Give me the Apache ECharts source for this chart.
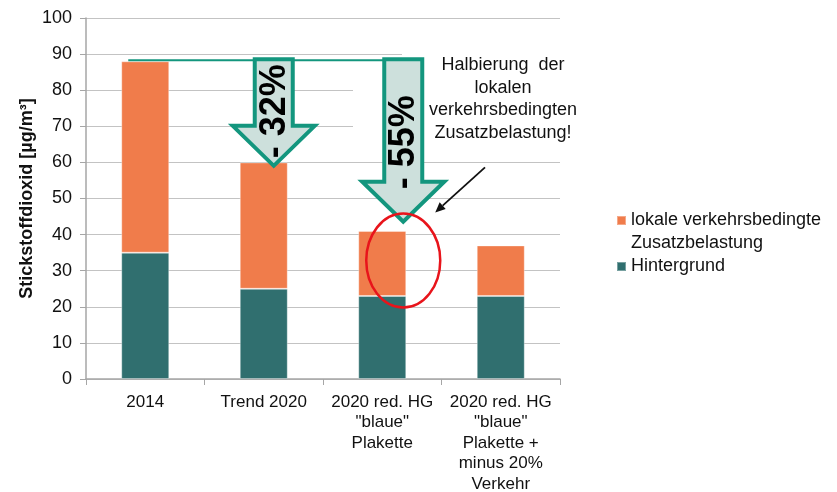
<!DOCTYPE html>
<html lang="de">
<head>
<meta charset="UTF-8">
<title>Stickstoffdioxid</title>
<style>
  html, body { margin: 0; padding: 0; background: #fff; }
  #chart { width: 837px; height: 492px; }
</style>
</head>
<body>
<div id="chart"></div>
<script src="https://cdn.jsdelivr.net/npm/echarts@6/dist/echarts.min.js"></script>
<script>
// Werte
var categories = ['2014', 'Trend 2020', '2020 red. HG\n"blaue"\nPlakette', '2020 red. HG\n"blaue"\nPlakette +\nminus 20%\nVerkehr'];
var hintergrund = [35, 25, 23, 23];
var zusatz = [53, 35, 18, 14];
var seriesNames = ['lokale verkehrsbedingte Zusatzbelastung', 'Hintergrund'];
// Pfeile: Kategorie, Spitze (Wert), Text
var arrowCats = [1, 2];
var arrowTips = [58.5, 43];
var arrowLabels = ['- 32%', '- 55%'];
var note = 'Halbierung  der\nlokalen\nverkehrsbedingten\nZusatzbelastung!';

var FONT = '"Liberation Sans", Arial, sans-serif';
var ORANGE = '#f07c4b';
var TEAL = '#306f6f';
var GREEN = '#13967e';

var chart = echarts.init(document.getElementById('chart'));

var option = {
  animation: false,
  textStyle: { fontFamily: FONT },
  grid: { left: 86, right: 277, top: 18, bottom: 113, outerBoundsMode: 'none', containLabel: false },
  legend: {
    orient: 'vertical',
    left: 616,
    top: 186,
    padding: 0,
    itemGap: 0,
    itemWidth: 9,
    itemHeight: 9,
    icon: 'rect',
    selectedMode: false,
    textStyle: { fontSize: 18, color: '#111', fontFamily: FONT, lineHeight: 23 },
    data: seriesNames,
    formatter: function (name) {
      // leere erste Zeile, damit die erste Textzeile neben dem Symbol steht
      return name === seriesNames[0] ? ' \nlokale verkehrsbedingte\nZusatzbelastung' : name;
    }
  },
  xAxis: {
    type: 'category',
    data: categories,
    axisLine: { lineStyle: { color: '#a6a6a6', width: 1.5 } },
    axisTick: { show: true, length: 6, lineStyle: { color: '#a6a6a6' } },
    axisLabel: { fontSize: 17, color: '#111', lineHeight: 20.5, margin: 13, fontFamily: FONT, interval: 0 }
  },
  yAxis: {
    type: 'value',
    min: 0,
    max: 100,
    interval: 10,
    name: 'Stickstoffdioxid [µg/m³]',
    nameLocation: 'middle',
    nameRotate: 90,
    nameGap: 50,
    nameMoveOverlap: false,
    nameTextStyle: { fontSize: 18, fontWeight: 'bold', color: '#111', fontFamily: FONT },
    axisLine: { show: true, lineStyle: { color: '#a6a6a6', width: 1.5 } },
    axisTick: { show: true, length: 6, lineStyle: { color: '#a6a6a6' } },
    axisLabel: { fontSize: 18, color: '#111', margin: 14, fontFamily: FONT },
    splitLine: { lineStyle: { color: '#c3c3c3', width: 1.2 } }
  },
  series: [
    {
      name: seriesNames[1],
      type: 'bar',
      stack: 'no2',
      barWidth: 48,
      itemStyle: { color: TEAL, borderColor: 'rgba(255,255,255,0.35)', borderWidth: 1 },
      data: hintergrund
    },
    {
      name: seriesNames[0],
      type: 'bar',
      stack: 'no2',
      barWidth: 48,
      itemStyle: { color: ORANGE, borderColor: 'rgba(255,255,255,0.35)', borderWidth: 1 },
      data: zusatz
    }
  ]
};

chart.setOption(option);

// Annotationen aus den Achsen berechnen
function px(catIdx, value) {
  return chart.convertToPixel({ gridIndex: 0 }, [catIdx, value]);
}

function arrowShape(cx, top, tip, shaftHalf, headHalf, headLen) {
  var hy = tip - headLen;
  return [
    [cx - shaftHalf, top], [cx + shaftHalf, top], [cx + shaftHalf, hy],
    [cx + headHalf, hy], [cx, tip], [cx - headHalf, hy], [cx - shaftHalf, hy]
  ];
}

var startTotal = hintergrund[0] + zusatz[0];
var refY = px(0, startTotal)[1] - 1;
var gridRight = px(3, 0)[0] + (px(3, 0)[0] - px(2, 0)[0]) / 2;
var y90 = px(0, 90)[1];
var y60 = px(0, 60)[1];

var elements = [];

// weisser Textkasten deckt Gitterlinien ab
elements.push({
  type: 'rect', z: 1,
  shape: { x: gridRight - 158, y: y90 - 4, width: 158, height: y60 - y90 - 5 },
  style: { fill: '#fff' }
});
elements.push({
  type: 'rect', z: 1,
  shape: { x: gridRight - 207, y: y90 + 3, width: 50, height: y60 - y90 - 8 },
  style: { fill: '#fff' }
});

var offsets = [10, 21];
var a2x = px(arrowCats[1], 0)[0] + offsets[1];

// Bezugslinie auf Hoehe 2014
elements.push({
  type: 'line', z: 3,
  shape: { x1: px(0, 0)[0] - 17, y1: refY, x2: a2x - 20, y2: refY },
  style: { stroke: GREEN, lineWidth: 2 }
});

arrowCats.forEach(function (c, i) {
  var cx = px(c, 0)[0] + offsets[i];
  var top = refY - 1;
  var tip = px(c, arrowTips[i])[1];
  elements.push({
    type: 'polygon', z: 4,
    shape: { points: arrowShape(cx, top, tip - 2, 19, 41, 40) },
    style: { fill: '#cde0dc', stroke: GREEN, lineWidth: 4, lineJoin: 'miter' }
  });
  elements.push({
    type: 'text', z: 5,
    x: cx + 1,
    y: i === 0 ? top + 52 : top + 83,
    rotation: Math.PI / 2,
    style: {
      text: arrowLabels[i],
      font: 'bold 36px ' + FONT,
      fill: '#000',
      align: 'center',
      verticalAlign: 'middle'
    }
  });
});

// roter Kreis um Balken 3
var b3 = px(2, hintergrund[2] + zusatz[2] / 2 + 0.8);
elements.push({
  type: 'ellipse', z: 5,
  shape: { cx: a2x, cy: b3[1], rx: 37, ry: 47 },
  style: { fill: 'none', stroke: '#e8141b', lineWidth: 2.5 }
});

// Hinweistext
elements.push({
  type: 'text', z: 5,
  x: gridRight - 57,
  y: y90,
  style: {
    text: note,
    font: '18px ' + FONT,
    fill: '#111',
    align: 'center',
    verticalAlign: 'top',
    lineHeight: 22.5
  }
});

// schwarzer Pfeil zum Kreis
var p0 = [gridRight - 75, y60 + 5];
var p1 = [a2x + 32, y60 + 50];
var dx = p1[0] - p0[0], dy = p1[1] - p0[1];
var len = Math.sqrt(dx * dx + dy * dy);
var ux = dx / len, uy = dy / len;
var hl = 10, hw = 4.5;
var base = [p1[0] - ux * hl, p1[1] - uy * hl];
elements.push({
  type: 'line', z: 5,
  shape: { x1: p0[0], y1: p0[1], x2: base[0], y2: base[1] },
  style: { stroke: '#111', lineWidth: 1.8 }
});
elements.push({
  type: 'polygon', z: 5,
  shape: { points: [p1, [base[0] - uy * hw, base[1] + ux * hw], [base[0] + uy * hw, base[1] - ux * hw]] },
  style: { fill: '#111' }
});

chart.setOption({ graphic: { elements: elements } });
</script>
</body>
</html>
